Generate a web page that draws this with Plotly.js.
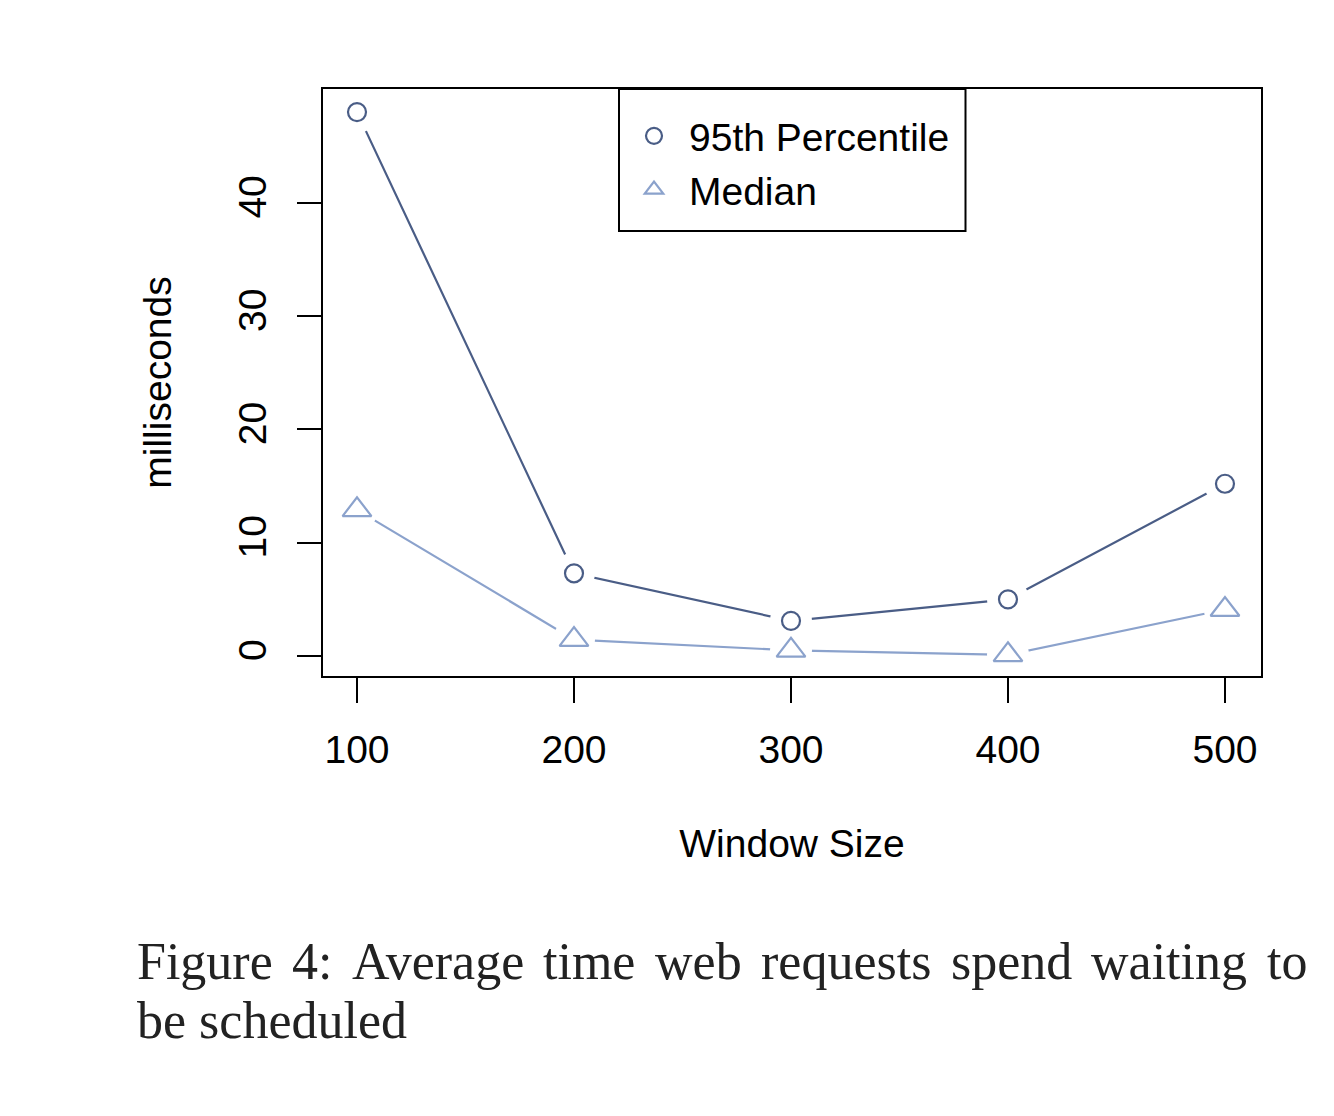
<!DOCTYPE html>
<html>
<head>
<meta charset="utf-8">
<script src="https://cdn.plot.ly/plotly-3.0.1.min.js"></script>
<style>
  html, body { margin: 0; padding: 0; background: #ffffff; }
  #chart { width: 1334px; height: 1116px; }
</style>
</head>
<body>
<div id="chart"></div>
<script>
// ---- data ----
const windowSizes = [100, 200, 300, 400, 500];
const p95 = [48.0, 7.3, 3.1, 5.0, 15.2];
const median = [12.9, 1.45, 0.5, 0.1, 4.1];
const yTicks = [0, 10, 20, 30, 40];
const seriesNames = ['95th Percentile', 'Median'];
const xTitle = 'Window Size';
const yTitle = 'milliseconds';
const captionLine1 = ['Figure', '4:', 'Average', 'time', 'web', 'requests', 'spend', 'waiting', 'to'];
const captionLine2 = 'be scheduled';

// ---- style ----
const darkCol = '#4a5d86';
const lightCol = '#8ba2cc';
const sans = 'Liberation Sans, Arial, Helvetica, sans-serif';
const serif = 'Liberation Serif, Times New Roman, serif';
const fs = 39;
const capFs = 52;

const W = 1334, H = 1116;
const mL = 323, mR = 73, mT = 89, mB = 440;
const plotW = W - mL - mR, plotH = H - mT - mB;

function lineTrace(y, col) {
  return { x: windowSizes, y: y, mode: 'lines', line: { color: col, width: 2.2 },
           showlegend: false, hoverinfo: 'skip' };
}
function maskTrace(y) {
  return { x: windowSizes, y: y, mode: 'markers',
           marker: { symbol: 'circle', size: 42, color: '#ffffff', line: { width: 0 } },
           showlegend: false, hoverinfo: 'skip' };
}
function markTrace(y, col, sym, size, name) {
  return { x: windowSizes, y: y, mode: 'markers', name: name,
           marker: { symbol: sym, size: size, color: col, line: { color: col, width: 2.2 } } };
}

const data = [
  lineTrace(p95, darkCol),
  lineTrace(median, lightCol),
  maskTrace(p95),
  maskTrace(median),
  markTrace(p95, darkCol, 'circle-open', 18, seriesNames[0]),
  markTrace(median, lightCol, 'triangle-up-open', 25, seriesNames[1])
];

// caption layout: justify first line using measured word widths
const cv = document.createElement('canvas').getContext('2d');
cv.font = capFs + 'px "Liberation Serif"';
const capLeft = 135, capRight = 1305;
const widths = captionLine1.map(w => cv.measureText(w).width);
const totalW = widths.reduce((a, b) => a + b, 0);
const gap = (capRight - capLeft - totalW) / (captionLine1.length - 1);
const annotations = [];
let cx = capLeft;
function px2paperX(px) { return (px - mL) / plotW; }
function px2paperY(py) { return (H - mB - py) / plotH; }
captionLine1.forEach((w, i) => {
  annotations.push({ text: w, xref: 'paper', yref: 'paper', x: px2paperX(cx), y: px2paperY(961),
    xanchor: 'left', yanchor: 'middle', showarrow: false,
    font: { family: serif, size: capFs, color: '#222222' } });
  cx += widths[i] + gap;
});
annotations.push({ text: captionLine2, xref: 'paper', yref: 'paper', x: px2paperX(capLeft), y: px2paperY(1021),
  xanchor: 'left', yanchor: 'middle', showarrow: false,
  font: { family: serif, size: capFs, color: '#222222' } });

const layout = {
  width: W, height: H,
  margin: { l: mL, r: mR, t: mT, b: mB, pad: 0 },
  paper_bgcolor: '#ffffff', plot_bgcolor: '#ffffff',
  font: { family: sans, size: fs, color: '#000000' },
  showlegend: true,
  legend: {
    x: px2paperX(619), y: px2paperY(104), xanchor: 'left', yanchor: 'top',
    bgcolor: 'rgba(0,0,0,0)', borderwidth: 0, itemwidth: 60,
    font: { family: sans, size: fs, color: '#000000' }, tracegroupgap: 0
  },
  xaxis: {
    range: [84.33, 516.6], tickmode: 'array', tickvals: windowSizes, ticktext: windowSizes.map(String),
    ticks: 'outside', ticklen: 25, tickwidth: 2, tickcolor: '#000000',
    showline: true, mirror: true, linewidth: 2, linecolor: '#000000',
    showgrid: false, zeroline: false, ticklabelstandoff: 13,
    tickfont: { family: sans, size: fs, color: '#000000' },
    title: { text: xTitle, font: { family: sans, size: fs, color: '#000000' }, standoff: 60 }
  },
  yaxis: {
    range: [-1.765, 50.04], tickmode: 'array', tickvals: yTicks, ticktext: yTicks.map(String),
    tickangle: -90,
    ticks: 'outside', ticklen: 24, tickwidth: 2, tickcolor: '#000000',
    showline: true, mirror: true, linewidth: 2, linecolor: '#000000',
    showgrid: false, zeroline: false, ticklabelstandoff: 15,
    tickfont: { family: sans, size: fs, color: '#000000' },
    title: { text: yTitle, font: { family: sans, size: fs, color: '#000000' }, standoff: 48 }
  },
  shapes: [{
    type: 'rect', xref: 'paper', yref: 'paper',
    x0: px2paperX(619), x1: px2paperX(965.5), y0: px2paperY(231), y1: 1,
    line: { color: '#000000', width: 2 }, fillcolor: 'rgba(0,0,0,0)', layer: 'above'
  }],
  annotations: annotations
};

Plotly.newPlot('chart', data, layout, { displayModeBar: false, staticPlot: true });
</script>
</body>
</html>
